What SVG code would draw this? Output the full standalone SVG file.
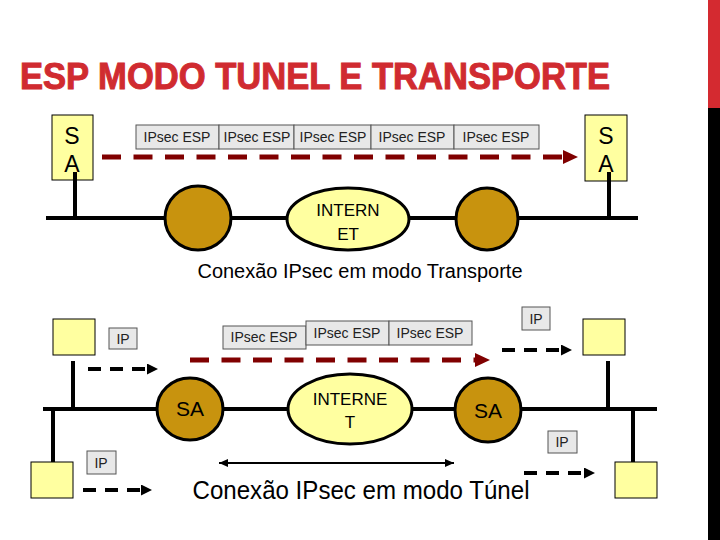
<svg xmlns="http://www.w3.org/2000/svg" width="720" height="540" viewBox="0 0 720 540">
<style>
text{font-family:"Liberation Sans",Arial,sans-serif;fill:#000}
.host{fill:#ffffa0;stroke:#000;stroke-width:1}
.pkt{fill:#e8e8e8;stroke:#555;stroke-width:1}
.pt{font-size:14px;text-anchor:middle;fill:#222}
.bus{stroke:#000;stroke-width:4;fill:none}
.router{fill:#c8930e;stroke:#000;stroke-width:3}
.net{fill:#ffffa0;stroke:#000;stroke-width:3}
.red{stroke:#800000;stroke-width:5;stroke-dasharray:19 12.5;fill:none}
.blk{stroke:#000;stroke-width:4;stroke-dasharray:13 9;fill:none}
</style>
<defs>
<marker id="ahR" markerUnits="userSpaceOnUse" markerWidth="15" markerHeight="14" refX="0" refY="7" orient="auto"><path d="M0,0 L15,7 L0,14 Z" fill="#800000"/></marker>
<marker id="ahK" markerUnits="userSpaceOnUse" markerWidth="11" markerHeight="11" refX="0" refY="5.5" orient="auto"><path d="M0,0 L11,5.5 L0,11 Z" fill="#000"/></marker>
<marker id="ahT" markerUnits="userSpaceOnUse" markerWidth="9" markerHeight="8" refX="9" refY="4" orient="auto-start-reverse"><path d="M0,0 L9,4 L0,8 Z" fill="#000"/></marker>
</defs>
<rect x="708" y="0" width="12" height="108" fill="#d42a30"/>
<rect x="708" y="108" width="12" height="432" fill="#000"/>
<text x="20" y="89" font-size="36" font-weight="bold" style="fill:#d02b30;stroke:#d02b30;stroke-width:1" textLength="590" lengthAdjust="spacingAndGlyphs">ESP MODO TUNEL E TRANSPORTE</text>

<g id="connectors">
<path class="bus" d="M46,218 H165 M231,218 H287 M409,218 H456 M518,218 H638"/>
<path class="bus" d="M75,172 V218 M609,172 V218"/>
<path class="bus" d="M43,409 H157 M222,409 H288 M412,409 H455 M522,409 H657"/>
<path class="bus" d="M73,361 V409 M608,361 V409 M53,409 V462 M633,409 V462"/>
<path class="red" d="M102,157 H563" marker-end="url(#ahR)"/>
<path class="red" d="M190,360 H475" marker-end="url(#ahR)"/>
<path class="blk" d="M88,369 H147" marker-end="url(#ahK)"/>
<path class="blk" d="M502,350 H561" marker-end="url(#ahK)"/>
<path class="blk" d="M83,490 H141" marker-end="url(#ahK)"/>
<path class="blk" d="M524,473 H584" marker-end="url(#ahK)"/>
<path d="M219,463 H454" stroke="#000" stroke-width="2" marker-start="url(#ahT)" marker-end="url(#ahT)"/>
</g>

<g id="sa-top-left"><rect class="host" x="52" y="115" width="41" height="65"/><text x="72" y="144" font-size="23" text-anchor="middle">S</text><text x="72" y="172" font-size="23" text-anchor="middle">A</text></g>
<g id="sa-top-right"><rect class="host" x="585" y="115" width="42" height="66"/><text x="606" y="144" font-size="23" text-anchor="middle">S</text><text x="606" y="172" font-size="23" text-anchor="middle">A</text></g>
<path d="M75,172 V180 M609,172 V181" stroke="#000" stroke-width="4"/>

<g id="packets-top">
<rect class="pkt" x="136" y="125" width="83" height="24"/><text class="pt" x="177" y="142">IPsec ESP</text>
<rect class="pkt" x="219" y="125" width="75" height="24"/><text class="pt" x="257" y="142">IPsec ESP</text>
<rect class="pkt" x="294" y="125" width="77" height="24"/><text class="pt" x="333" y="142">IPsec ESP</text>
<rect class="pkt" x="371" y="125" width="83" height="24"/><text class="pt" x="412" y="142">IPsec ESP</text>
<rect class="pkt" x="454" y="125" width="85" height="24"/><text class="pt" x="496" y="142">IPsec ESP</text>
</g>

<g id="router-top-left"><ellipse class="router" cx="198" cy="218" rx="33" ry="32"/></g>
<g id="internet-top"><ellipse class="net" cx="348" cy="219" rx="61" ry="31"/><text x="348" y="216" font-size="17" text-anchor="middle">INTERN</text><text x="348" y="240" font-size="17" text-anchor="middle">ET</text></g>
<g id="router-top-right"><ellipse class="router" cx="487" cy="219" rx="31" ry="31"/></g>
<text x="360" y="278" font-size="20" text-anchor="middle" textLength="325" lengthAdjust="spacingAndGlyphs">Conexão IPsec em modo Transporte</text>

<g id="host-bl-top"><rect class="host" x="53" y="319" width="42" height="36"/></g>
<g id="host-br-top"><rect class="host" x="583" y="319" width="42" height="36"/></g>
<g id="host-bl-bottom"><rect class="host" x="31" y="462" width="42" height="36"/></g>
<g id="host-br-bottom"><rect class="host" x="615" y="462" width="42" height="36"/></g>

<g id="ip-labels">
<rect class="pkt" x="109" y="328" width="28" height="21"/><text class="pt" x="123" y="344">IP</text>
<rect class="pkt" x="522" y="307" width="28" height="23"/><text class="pt" x="536" y="324">IP</text>
<rect class="pkt" x="87" y="451" width="29" height="23"/><text class="pt" x="101" y="468">IP</text>
<rect class="pkt" x="548" y="431" width="29" height="22"/><text class="pt" x="562" y="447">IP</text>
</g>

<g id="packets-bottom">
<rect class="pkt" x="223" y="326" width="83" height="23"/><text class="pt" x="264" y="342">IPsec ESP</text>
<rect class="pkt" x="306" y="321" width="83" height="24"/><text class="pt" x="347" y="338">IPsec ESP</text>
<rect class="pkt" x="389" y="321" width="83" height="24"/><text class="pt" x="430" y="338">IPsec ESP</text>
</g>

<g id="sa-bottom-left"><ellipse class="router" cx="190" cy="409" rx="33" ry="31"/><text x="190" y="416" font-size="21" text-anchor="middle">SA</text></g>
<g id="internet-bottom"><ellipse class="net" cx="350" cy="409" rx="62" ry="35"/><text x="350" y="405" font-size="17" text-anchor="middle">INTERNE</text><text x="350" y="428" font-size="17" text-anchor="middle">T</text></g>
<g id="sa-bottom-right"><ellipse class="router" cx="488" cy="410" rx="33" ry="32"/><text x="488" y="418" font-size="21" text-anchor="middle">SA</text></g>

<text x="361" y="499" font-size="25" text-anchor="middle" textLength="337" lengthAdjust="spacingAndGlyphs">Conexão IPsec em modo Túnel</text>
</svg>
